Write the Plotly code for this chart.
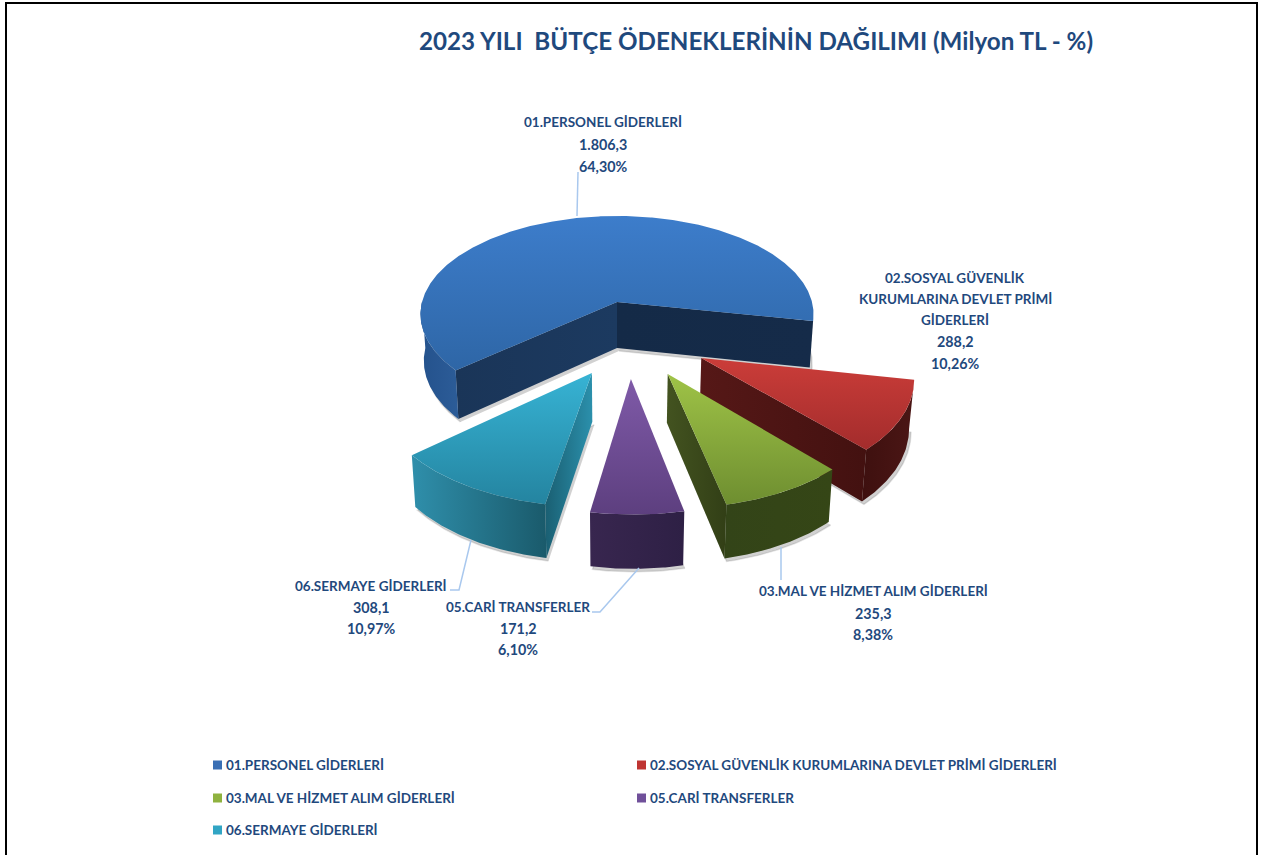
import numpy as np
import plotly.graph_objects as go

# data
CATEGORIES = [
    "01.PERSONEL GİDERLERİ",
    "02.SOSYAL GÜVENLİK KURUMLARINA DEVLET PRİMİ GİDERLERİ",
    "03.MAL VE HİZMET ALIM GİDERLERİ",
    "05.CARİ TRANSFERLER",
    "06.SERMAYE GİDERLERİ",
]
VALUES = [1806.3, 288.2, 235.3, 171.2, 308.1]
VALUE_LABELS = ["1.806,3", "288,2", "235,3", "171,2", "308,1"]
PERCENT_LABELS = ["64,30%", "10,26%", "8,38%", "6,10%", "10,97%"]

TITLE = "2023 YILI \u00a0BÜTÇE ÖDENEKLERİNİN DAĞILIMI (Milyon TL - %)"
TEXT_COLOR = "#1f497d"
FONT = "Lato"
LABEL_SIZE = 13.5
NUMBER_SIZE = 14.3
LINE_COLOR = "#a9c8ee"

# colours per slice: top face (upper, lower), cut faces and outer wall (left, right)
STYLES = [
    dict(top=("#3d7dcb", "#2e66a6"), start=("#1a3558", "#1c3a60"), end=("#142a47", "#152b49"), wall=("#24528c", "#2c5c98")),
    dict(top=("#cb3d39", "#a32c2c"), start=("#561817", "#431110"), end=("#561817", "#431110"), wall=("#3e100f", "#4b1615")),
    dict(top=("#9fc347", "#6e8e30"), start=("#435320", "#323f16"), end=("#435320", "#323f16"), wall=("#334418", "#354616")),
    dict(top=("#7f5aa8", "#5d3f7f"), start=("#38264f", "#38264f"), end=("#38264f", "#38264f"), wall=("#38264f", "#2e2045")),
    dict(top=("#37b3d4", "#2484a0"), start=("#1a5f72", "#2b90ac"), end=("#1a5f72", "#2b90ac"), wall=("#2f8fab", "#1a5a6b")),
]

# ground plane offset of every slice (explosion), in pie radii
EXPLODE_U = [0, 0.403, 0.238, 0.065, -0.118]
EXPLODE_V = [0, 0.54, 0.681, 0.724, 0.672]

START_ANGLE = 229.5
CX, CY = 617, 302
RADIUS_X = 195
PERSPECTIVE = 774
CAMERA = 8


def project(u, v):
    """ground plane -> page position, nearer points get larger"""
    s = CAMERA / (CAMERA - v)
    return CX + RADIUS_X * u * s, CY + PERSPECTIVE * v / (CAMERA - v), s


def drop(x, y, s):
    """same point on the bottom side of the pie"""
    return CX + (x - CX) * 0.983, y + 46 + 30 * (s - 1)


def rim(du, dv, a, b):
    t = np.radians(np.linspace(a, b, max(2, int(abs(b - a)) * 2)))
    return project(du + np.sin(t), dv - np.cos(t))


def add_poly(fig, xs, ys, colors, direction="vertical"):
    # vertical gradients run bottom to top on the page, so flip them
    low, high = colors[::-1] if direction == "vertical" else colors
    fig.add_trace(go.Scatter(
        x=list(xs), y=list(ys), mode="lines", fill="toself",
        line=dict(width=0), hoverinfo="skip", showlegend=False,
        fillgradient=dict(type=direction, colorscale=[[0, low], [1, high]]),
    ))


def add_slice(fig, a, b, du, dv, style):
    ax, ay, a_s = project(du, dv)
    bx, by = drop(ax, ay, a_s)
    ex, ey, es = rim(du, dv, a, b)
    lx, ly = drop(ex, ey, es)

    # soft shadow under the body
    fig.add_trace(go.Scatter(
        x=list(lx + 2) + [bx + 2], y=list(ly + 3) + [by + 3], mode="lines", fill="toself",
        fillcolor="rgba(0,0,0,0.18)", line=dict(width=1.5, color="rgba(0,0,0,0.10)"),
        hoverinfo="skip", showlegend=False,
    ))

    # cut faces, only those turned to the viewer
    if np.sin(np.radians(a)) < 0:
        add_poly(fig, [ax, ex[0], lx[0], bx, ax], [ay, ey[0], ly[0], by, ay], style["start"], "horizontal")
    if np.sin(np.radians(b)) > 0:
        add_poly(fig, [ax, ex[-1], lx[-1], bx, ax], [ay, ey[-1], ly[-1], by, ay], style["end"], "horizontal")

    # outer wall, same idea; a thin sliver at the edge does not show in the original
    for k in (0, 360):
        lo, hi = max(a, 90 + k), min(b, 270 + k)
        if hi - lo > 15:
            wx, wy, ws = rim(du, dv, lo, hi)
            wlx, wly = drop(wx, wy, ws)
            add_poly(fig, list(wx) + list(wlx[::-1]), list(wy) + list(wly[::-1]), style["wall"], "horizontal")

    # top face
    add_poly(fig, [ax] + list(ex) + [ax], [ay] + list(ey) + [ay], style["top"])


def add_text(fig, x, y, text, anchor="center", size=LABEL_SIZE):
    fig.add_annotation(
        x=x, y=y, text=f"<b>{text}</b>", showarrow=False, xanchor=anchor, yanchor="middle",
        font=dict(family=FONT, size=size, color=TEXT_COLOR),
    )


fig = go.Figure()

# slices, back to front
angles = np.cumsum([0] + [v / sum(VALUES) * 360 for v in VALUES]) + START_ANGLE
for i in [0, 1, 2, 4, 3]:
    add_slice(fig, angles[i], angles[i + 1], EXPLODE_U[i], EXPLODE_V[i], STYLES[i])

# leader lines
for xs, ys in [
    ([578, 577], [172, 216]),
    ([781, 781], [547, 580]),
    ([639, 600, 592], [568, 612, 612]),
    ([471, 459, 450], [540, 590, 590]),
]:
    fig.add_trace(go.Scatter(x=xs, y=ys, mode="lines", line=dict(color=LINE_COLOR, width=1.5),
                             hoverinfo="skip", showlegend=False))

# data labels
add_text(fig, 603, 122, CATEGORIES[0])
add_text(fig, 603, 144, VALUE_LABELS[0], size=NUMBER_SIZE)
add_text(fig, 603, 166, PERCENT_LABELS[0], size=NUMBER_SIZE)

add_text(fig, 955, 278, "02.SOSYAL GÜVENLİK")
add_text(fig, 955, 299, "KURUMLARINA DEVLET PRİMİ")
add_text(fig, 955, 320, "GİDERLERİ")
add_text(fig, 955, 341, VALUE_LABELS[1], size=NUMBER_SIZE)
add_text(fig, 955, 363, PERCENT_LABELS[1], size=NUMBER_SIZE)

add_text(fig, 873, 591, CATEGORIES[2])
add_text(fig, 873, 613, VALUE_LABELS[2], size=NUMBER_SIZE)
add_text(fig, 873, 634, PERCENT_LABELS[2], size=NUMBER_SIZE)

add_text(fig, 518, 607, CATEGORIES[3])
add_text(fig, 518, 628, VALUE_LABELS[3], size=NUMBER_SIZE)
add_text(fig, 518, 649, PERCENT_LABELS[3], size=NUMBER_SIZE)

add_text(fig, 371, 586, CATEGORIES[4])
add_text(fig, 371, 607, VALUE_LABELS[4], size=NUMBER_SIZE)
add_text(fig, 371, 628, PERCENT_LABELS[4], size=NUMBER_SIZE)

# legend, two uneven columns
legend_x = [213, 637, 213, 637, 213]
legend_y = [765, 765, 798, 798, 830]
legend_colors = ["#3a6fb5", "#bf3532", "#8fb23f", "#70509a", "#31a5c4"]
fig.add_trace(go.Scatter(
    x=[x + 4.5 for x in legend_x], y=legend_y, mode="markers",
    marker=dict(symbol="square", size=9, color=legend_colors),
    hoverinfo="skip", showlegend=False,
))
for i, name in enumerate(CATEGORIES):
    add_text(fig, legend_x[i] + 11, legend_y[i], name, anchor="left")

fig.add_annotation(
    x=756, y=40, text=f"<b>{TITLE}</b>", showarrow=False,
    font=dict(family=FONT, size=24.2, color=TEXT_COLOR),
)

# picture frame
fig.add_shape(type="rect", x0=6, y0=3, x1=1257, y1=900, line=dict(color="black", width=2))

fig.update_layout(
    width=1264,
    height=855,
    margin=dict(l=0, r=0, t=0, b=0),
    paper_bgcolor="white",
    plot_bgcolor="white",
    showlegend=False,
    xaxis=dict(range=[0, 1264], visible=False, fixedrange=True),
    yaxis=dict(range=[855, 0], visible=False, fixedrange=True),
)

fig.write_html("out.html", config={"displayModeBar": False}, post_script="document.body.style.margin='0';")
